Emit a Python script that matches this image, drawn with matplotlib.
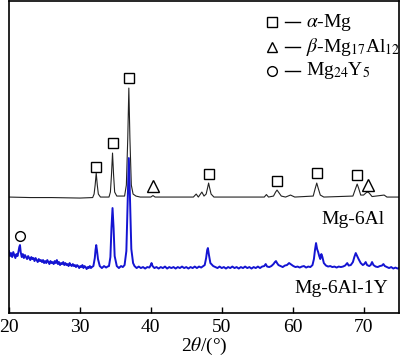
import matplotlib
matplotlib.use("Agg")
from matplotlib import pyplot as plt

plt.rcParams['font.family'] = ['Liberation Serif', 'DejaVu Serif']
plt.rcParams['mathtext.fontset'] = 'stix'

# Mg-6Al pattern: (2theta, intensity a.u.)
pts_6al = [
    (20.0, 116), (23.0, 115.5), (26.0, 115.5), (30.0, 115), (31.8, 115.5),
    (32.0, 119), (32.15, 128), (32.3, 140), (32.45, 128), (32.6, 119), (32.9, 116),
    (34.1, 116), (34.3, 121), (34.45, 138), (34.6, 160), (34.75, 138), (34.9, 121), (35.2, 117),
    (36.3, 117), (36.55, 128), (36.75, 175), (36.9, 225), (37.05, 175), (37.25, 128),
    (37.5, 119), (37.9, 117), (38.5, 116), (40.0, 116), (40.3, 117.5), (40.6, 116),
    (46.0, 116), (46.4, 119), (46.7, 116), (47.2, 121), (47.5, 117),
    (47.8, 119), (48.0, 125), (48.15, 130), (48.3, 125), (48.5, 119), (48.9, 116),
    (52.0, 116), (56.0, 116), (56.3, 118.5), (56.6, 116), (57.3, 117), (57.6, 121),
    (57.8, 123), (58.0, 121), (58.4, 117), (59.0, 116), (59.7, 118), (60.3, 116),
    (62.9, 117), (63.2, 125), (63.4, 130), (63.6, 125), (63.9, 118), (64.4, 116),
    (68.5, 117), (68.9, 125), (69.1, 129), (69.3, 125), (69.6, 118), (70.0, 118),
    (70.4, 120.5), (70.6, 121), (70.8, 120), (71.2, 116.5), (72.9, 118), (73.3, 116),
    (75.0, 116),
]

# Mg-6Al-1Y pattern
pts_1y = [
    (20.00, 62), (20.15, 57), (20.30, 60), (20.45, 56), (20.60, 61), (20.75, 58),
    (20.90, 55), (21.05, 59), (21.20, 57), (21.35, 62), (21.45, 66), (21.55, 68),
    (21.65, 61), (21.80, 56), (21.95, 59), (22.10, 55), (22.25, 58), (22.40, 56),
    (22.55, 54), (22.70, 57), (22.85, 55), (23.00, 53), (23.15, 56), (23.30, 54),
    (23.45, 55), (23.60, 52), (23.75, 55), (23.90, 53), (24.05, 51), (24.20, 54),
    (24.35, 52), (24.50, 53), (24.65, 51), (24.80, 53), (24.95, 50), (25.10, 52),
    (25.25, 50), (25.40, 53), (25.55, 51), (25.70, 49), (25.85, 52), (26.00, 50),
    (26.15, 51), (26.30, 49), (26.45, 52), (26.60, 50), (26.75, 53), (26.90, 49),
    (27.05, 51), (27.20, 48), (27.35, 50), (27.50, 49), (27.65, 51), (27.80, 48),
    (27.95, 50), (28.10, 48), (28.25, 49), (28.40, 47), (28.55, 50), (28.70, 48),
    (28.85, 47), (29.00, 49), (29.15, 47), (29.30, 48), (29.45, 46), (29.60, 48),
    (29.75, 47), (29.90, 45), (30.05, 47), (30.20, 46), (30.35, 48), (30.50, 45),
    (30.65, 47), (30.80, 46), (30.95, 44), (31.10, 46), (31.25, 45), (31.40, 47),
    (31.55, 45), (31.70, 46),
    (31.9, 47), (32.1, 55), (32.2, 63), (32.3, 68), (32.4, 63), (32.55, 54), (32.8, 47),
    (33.1, 45), (33.4, 47), (33.7, 45.5), (33.9, 46.5),
    (34.1, 47), (34.3, 56), (34.45, 85), (34.6, 105), (34.75, 85), (34.9, 57), (35.2, 47),
    (35.5, 45), (35.8, 47), (36.05, 46),
    (36.3, 48), (36.55, 62), (36.75, 115), (36.9, 155), (37.05, 118), (37.25, 64),
    (37.5, 50), (37.7, 47),
    (38.0, 45), (38.3, 46.5), (38.6, 45), (38.9, 46), (39.2, 44.5), (39.5, 46),
    (39.8, 45.5), (40.0, 48), (40.1, 50), (40.25, 47), (40.5, 45), (40.8, 46),
    (41.1, 44.5), (41.4, 46), (41.7, 45), (42.0, 46.5), (42.3, 44.5), (42.6, 46),
    (42.9, 45), (43.2, 46), (43.5, 44.5), (43.8, 46), (44.1, 45), (44.4, 46.5),
    (44.7, 45), (45.0, 46), (45.3, 44.5), (45.6, 46), (45.9, 45), (46.2, 46.5),
    (46.5, 45), (46.8, 46.5), (47.1, 45.5), (47.4, 47),
    (47.6, 48), (47.8, 55), (47.95, 63), (48.05, 65), (48.2, 58), (48.4, 50), (48.8, 47),
    (49.1, 46), (49.4, 45), (49.7, 46.5), (50.0, 45), (50.3, 46), (50.6, 44.5),
    (50.9, 46), (51.2, 45), (51.5, 46.5), (51.8, 45), (52.1, 46), (52.4, 44.5),
    (52.7, 46), (53.0, 45), (53.3, 46.5), (53.6, 45), (53.9, 46), (54.2, 44.5),
    (54.5, 46), (54.8, 45), (55.1, 46.5), (55.4, 45), (55.7, 46.5), (56.0, 47),
    (56.2, 49), (56.4, 46.5), (56.7, 46), (57.0, 47), (57.3, 49), (57.5, 51),
    (57.65, 52), (57.8, 50), (58.0, 48), (58.3, 47), (58.6, 46), (58.9, 47.5),
    (59.2, 48), (59.5, 50), (59.8, 48.5), (60.1, 47), (60.4, 46), (60.7, 46.5),
    (61.0, 45.5), (61.3, 46.5), (61.6, 47), (61.9, 45.5), (62.2, 46.5), (62.5, 46),
    (62.8, 48), (63.0, 54), (63.15, 63), (63.3, 70), (63.45, 64), (63.6, 61),
    (63.75, 57), (63.9, 54), (64.05, 59), (64.2, 56), (64.4, 50), (64.7, 47.5),
    (65.0, 46.5), (65.3, 47), (65.6, 46), (65.9, 46.5), (66.2, 45.5), (66.5, 46.5),
    (66.8, 46), (67.1, 46.5), (67.4, 47.5), (67.7, 50), (67.9, 47.5), (68.2, 48),
    (68.5, 51), (68.7, 56), (68.9, 60), (69.1, 57), (69.3, 54), (69.6, 50),
    (69.9, 48), (70.1, 49), (70.3, 51), (70.5, 48), (70.8, 47), (71.0, 48),
    (71.2, 51), (71.4, 48), (71.7, 46.5), (72.0, 46), (72.3, 47), (72.6, 47.5),
    (72.8, 49), (73.0, 47), (73.3, 46), (73.6, 45), (73.9, 46), (74.2, 44.5),
    (74.5, 45.5), (74.8, 44.5), (75.0, 45),
]

# phase markers
sq_x = [32.3, 34.6, 36.9, 48.2, 57.8, 63.4, 69.1]
sq_y = [146, 170, 235, 139, 132, 140, 138]
tri_x = [40.3, 70.6]
tri_y = [127, 128]
circ_x = [21.5]
circ_y = [77]

x_6al, y_6al = zip(*pts_6al)
x_1y, y_1y = zip(*pts_1y)

fig = plt.figure(figsize=(4.0, 3.59), dpi=100)
ax = fig.add_axes([0.0225, 0.128, 0.975, 0.869])

ax.plot(x_6al, y_6al, color='#222222', lw=0.8)
ax.plot(x_1y, y_1y, color='#1414d2', lw=1.4)

ax.plot(sq_x, sq_y, 's', ms=7, mfc='none', mec='black', mew=1.0)
ax.plot(tri_x, tri_y, '^', ms=8.5, mfc='none', mec='black', mew=1.0)
ax.plot(circ_x, circ_y, 'o', ms=7, mfc='none', mec='black', mew=1.0)

# legend drawn by hand
leg_y = [0.932, 0.852, 0.776]
leg_m = ['s', '^', 'o']
leg_t = [r'$\alpha$-Mg', r'$\beta$-Mg$_{17}$Al$_{12}$', r'Mg$_{24}$Y$_5$']
for yy, mk, tt in zip(leg_y, leg_m, leg_t):
    ax.plot([0.674], [yy], mk, ms=7, mfc='none', mec='black', mew=1.0,
            transform=ax.transAxes)
    ax.plot([0.708, 0.746], [yy, yy], color='black', lw=1.0, transform=ax.transAxes)
    ax.text(0.762, yy, tt, fontsize=14, va='center', ha='left', transform=ax.transAxes)

ax.text(72.9, 94, 'Mg-6Al', fontsize=14, ha='right', va='center')
ax.text(73.5, 25, 'Mg-6Al-1Y', fontsize=14, ha='right', va='center')

ax.set_xlim(20, 75)
ax.set_ylim(0, 312)
ax.set_xticks([20, 30, 40, 50, 60, 70])
ax.set_yticks([])
ax.tick_params(axis='x', direction='in', length=4.5, width=1.0, labelsize=14, pad=4)
for s in ax.spines.values():
    s.set_linewidth(1.2)
ax.set_xlabel(r'2$\theta$/(°)', fontsize=14, labelpad=0)

fig.savefig('out.png', dpi=100)
